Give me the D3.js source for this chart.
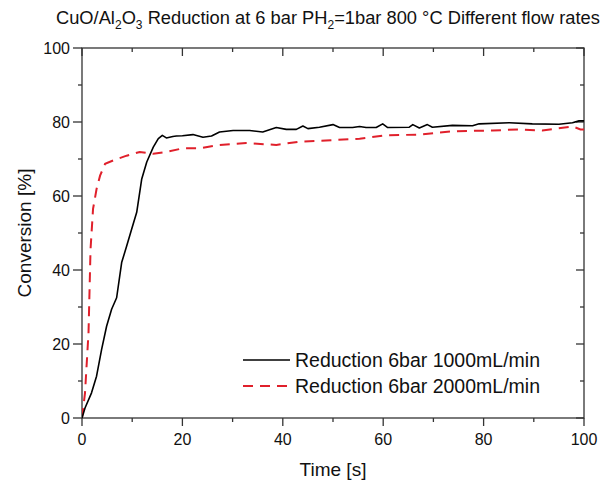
<!DOCTYPE html>
<html>
<head>
<meta charset="utf-8">
<script src="https://cdn.jsdelivr.net/npm/d3@7"></script>
<style>
  body { margin: 0; background: #fff; }
  svg { display: block; font-family: "Liberation Sans", Arial, sans-serif; }
</style>
</head>
<body>
<svg id="chart" width="606" height="483"></svg>
<script>
// 1000 mL/min series (black solid)
var time1000 = [0, 0.6, 1.9, 2.9, 3.9, 4.9, 5.9, 6.9, 7.9, 8.9, 9.9, 10.9, 11.9, 12.9, 14.2, 15.2, 16.0, 16.8, 18.1, 18.8, 20.0, 22.1, 24.1, 25.8, 27.4, 30.1, 33.4, 36.0, 38.7, 40.7, 42.7, 44.0, 45.0, 47.3, 50.0, 51.3, 53.9, 55.3, 56.6, 58.6, 59.9, 60.9, 65.2, 65.9, 67.2, 68.8, 69.8, 73.8, 77.8, 79.1, 85.1, 89.7, 95.0, 97.7, 99.0, 100];
var conv1000 = [0, 2.7, 6.8, 11.3, 18.5, 24.8, 29.4, 32.5, 42.0, 46.5, 51.1, 55.6, 64.6, 69.2, 73.2, 75.5, 76.4, 75.7, 76.1, 76.2, 76.3, 76.6, 75.9, 76.2, 77.3, 77.7, 77.7, 77.3, 78.5, 78.0, 78.0, 78.9, 78.2, 78.6, 79.3, 78.5, 78.5, 78.8, 78.5, 78.5, 79.5, 78.5, 78.6, 79.3, 78.4, 79.3, 78.6, 79.1, 79.0, 79.5, 79.8, 79.5, 79.4, 79.8, 80.3, 80.3];

// 2000 mL/min series (red dashed)
var time2000 = [0, 0.6, 1.3, 1.7, 2.2, 2.9, 3.6, 4.6, 6.2, 8.9, 11.5, 14.2, 16.8, 20.1, 23.5, 26.8, 32.7, 38.7, 43.3, 48.6, 55.3, 60.6, 67.2, 73.8, 81.8, 87.1, 91.7, 97.7, 99.3, 100];
var conv2000 = [0, 6.8, 23.1, 45.6, 56.5, 61.9, 65.5, 68.7, 69.6, 70.9, 71.9, 71.4, 71.9, 72.9, 72.9, 73.7, 74.3, 73.8, 74.7, 75.0, 75.5, 76.4, 76.6, 77.5, 77.7, 78.0, 77.7, 78.8, 78.0, 78.0];

var xTicks = [0, 20, 40, 60, 80, 100];
var yTicks = [0, 20, 40, 60, 80, 100];
var seriesNames = ['Reduction 6bar 1000mL/min', 'Reduction 6bar 2000mL/min'];

(function() {
    var plotLeft = 82, plotRight = 584, plotTop = 48, plotBottom = 418;
    var axisColor = '#333';
    var red = '#e0202b';

    var svg = d3.select('#chart');

    var x = d3.scaleLinear().domain([0, 100]).range([plotLeft, plotRight]);
    var y = d3.scaleLinear().domain([0, 100]).range([plotBottom, plotTop]);

    var minorX = d3.range(0, 101, 10);
    var minorY = d3.range(0, 101, 10);

    // frame
    svg.append('rect')
        .attr('x', plotLeft).attr('y', plotTop)
        .attr('width', plotRight - plotLeft).attr('height', plotBottom - plotTop)
        .attr('fill', 'none')
        .attr('stroke', axisColor)
        .attr('stroke-width', 1.3);

    function tickLen(v, major, minor) { return v % 20 === 0 ? major : minor; }

    // bottom ticks (outward) + top ticks (inward)
    svg.append('g').selectAll('line')
        .data(minorX).join('line')
        .attr('x1', function(d) { return x(d); })
        .attr('x2', function(d) { return x(d); })
        .attr('y1', plotBottom)
        .attr('y2', function(d) { return plotBottom + tickLen(d, 8, 4); })
        .attr('stroke', axisColor).attr('stroke-width', 1.3);

    svg.append('g').selectAll('line')
        .data(minorX).join('line')
        .attr('x1', function(d) { return x(d); })
        .attr('x2', function(d) { return x(d); })
        .attr('y1', plotTop)
        .attr('y2', function(d) { return plotTop + tickLen(d, 8, 4); })
        .attr('stroke', axisColor).attr('stroke-width', 1.3);

    // left ticks (outward) + right ticks (inward)
    svg.append('g').selectAll('line')
        .data(minorY).join('line')
        .attr('y1', function(d) { return y(d); })
        .attr('y2', function(d) { return y(d); })
        .attr('x1', plotLeft)
        .attr('x2', function(d) { return plotLeft - tickLen(d, 9, 4); })
        .attr('stroke', axisColor).attr('stroke-width', 1.3);

    svg.append('g').selectAll('line')
        .data(minorY).join('line')
        .attr('y1', function(d) { return y(d); })
        .attr('y2', function(d) { return y(d); })
        .attr('x1', plotRight)
        .attr('x2', function(d) { return plotRight - tickLen(d, 8, 4); })
        .attr('stroke', axisColor).attr('stroke-width', 1.3);

    // tick labels
    svg.append('g').selectAll('text')
        .data(xTicks).join('text')
        .attr('x', function(d) { return x(d); })
        .attr('y', plotBottom + 27)
        .attr('text-anchor', 'middle')
        .attr('font-size', 16)
        .attr('fill', '#111')
        .text(function(d) { return d; });

    svg.append('g').selectAll('text')
        .data(yTicks).join('text')
        .attr('x', plotLeft - 12)
        .attr('y', function(d) { return y(d) + 6; })
        .attr('text-anchor', 'end')
        .attr('font-size', 16)
        .attr('fill', '#111')
        .text(function(d) { return d; });

    // axis titles
    svg.append('text')
        .attr('x', (plotLeft + plotRight) / 2)
        .attr('y', 476)
        .attr('text-anchor', 'middle')
        .attr('font-size', 19)
        .attr('fill', '#111')
        .text('Time [s]');

    svg.append('text')
        .attr('transform', 'translate(31,' + ((plotTop + plotBottom) / 2) + ') rotate(-90)')
        .attr('text-anchor', 'middle')
        .attr('font-size', 19)
        .attr('fill', '#111')
        .text('Conversion [%]');

    // title with subscripts
    var title = svg.append('text')
        .attr('x', 56)
        .attr('y', 24)
        .attr('font-size', 18.3)
        .attr('fill', '#111');
    var parts = [['CuO/Al', 0], ['2', 1], ['O', 0], ['3', 1], [' Reduction at 6 bar PH', 0], ['2', 1], ['=1bar 800 \u00B0C Different flow rates', 0]];
    var prevSub = 0;
    parts.forEach(function(p) {
        title.append('tspan')
            .attr('dy', (p[1] - prevSub) * 5)
            .attr('font-size', p[1] ? 12 : 18.3)
            .text(p[0]);
        prevSub = p[1];
    });

    // lines
    svg.append('clipPath').attr('id', 'plotclip')
        .append('rect').attr('x', plotLeft).attr('y', plotTop - 2)
        .attr('width', plotRight - plotLeft + 2).attr('height', plotBottom - plotTop + 4);

    var line = d3.line()
        .x(function(d) { return x(d[0]); })
        .y(function(d) { return y(d[1]); });

    var data1000 = time1000.map(function(t, i) { return [t, conv1000[i]]; });
    var data2000 = time2000.map(function(t, i) { return [t, conv2000[i]]; });

    var plot = svg.append('g').attr('clip-path', 'url(#plotclip)');

    plot.append('path')
        .datum(data2000)
        .attr('d', line)
        .attr('fill', 'none')
        .attr('stroke', red)
        .attr('stroke-width', 2)
        .attr('stroke-dasharray', '10,7');

    plot.append('path')
        .datum(data1000)
        .attr('d', line)
        .attr('fill', 'none')
        .attr('stroke', '#000')
        .attr('stroke-width', 1.6)
        .attr('stroke-linejoin', 'round');

    // legend
    var legend = svg.append('g');
    var legendRows = [
        { name: seriesNames[0], color: '#000', dash: null, w: 1.6 },
        { name: seriesNames[1], color: red, dash: '10,7', w: 2 }
    ];
    legendRows.forEach(function(r, i) {
        var ly = 360 + i * 26;
        legend.append('line')
            .attr('x1', 243).attr('x2', 290)
            .attr('y1', ly).attr('y2', ly)
            .attr('stroke', r.color)
            .attr('stroke-width', r.w)
            .attr('stroke-dasharray', r.dash);
        legend.append('text')
            .attr('x', 295)
            .attr('y', ly + 7)
            .attr('font-size', 19.5)
            .attr('fill', '#111')
            .text(r.name);
    });
})();
</script>
</body>
</html>
